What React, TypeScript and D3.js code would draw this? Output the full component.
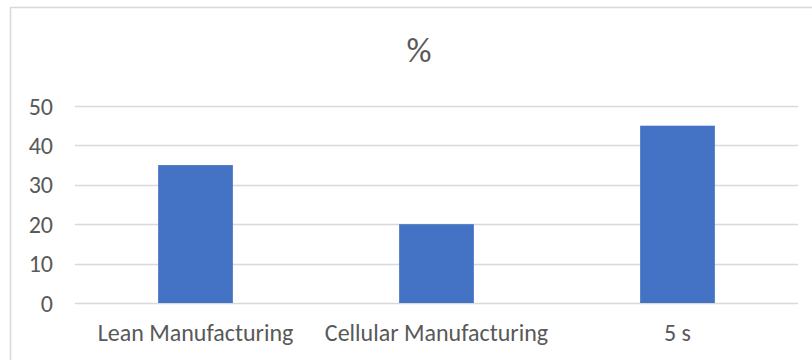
import React from "react";
import * as d3 from "d3";

const categories: string[] = ["Lean Manufacturing", "Cellular Manufacturing", "5 s"];
const values: number[] = [35, 20, 45];
const yTicks: number[] = [0, 10, 20, 30, 40, 50];
const title = "%";

const W = 812;
const H = 360;
const FONT = "Carlito, Calibri, Lato, 'Open Sans', sans-serif";
const TEXT = "#595959";
const GRID = "#D9D9D9";
const BAR = "#4472C4";

export default function App() {
  const x = d3.scaleBand<string>().domain(categories).range([75, 798]).padding(0);
  const y = d3.scaleLinear().domain([0, 50]).range([303, 106]);
  const bw = x.bandwidth() * 0.31;

  return (
    <svg
      width={W}
      height={H}
      style={{ position: "absolute", left: 0, top: 0, display: "block", background: "#fff" }}
      fontFamily={FONT}
    >
      <rect x={0} y={0} width={W} height={H} fill="#fff" />
      {/* chart border (cropped at right and bottom) */}
      <path d={`M10.5,${H + 5} L10.5,7.5 L${W + 5},7.5`} fill="none" stroke={GRID} strokeWidth={1.5} />
      <text x={419} y={62} textAnchor="middle" fontSize={35} fill={TEXT}>
        {title}
      </text>
      {yTicks.map((t) => (
        <g key={t}>
          <line x1={75} x2={798} y1={Math.round(y(t)) + 0.5} y2={Math.round(y(t)) + 0.5} stroke={GRID} strokeWidth={1.3} />
          <text x={53} y={y(t)} dy="0.36em" textAnchor="end" fontSize={24} fill={TEXT}>
            {t}
          </text>
        </g>
      ))}
      {categories.map((c, i) => {
        const cx = (x(c) as number) + x.bandwidth() / 2;
        return (
          <g key={c}>
            <rect x={cx - bw / 2} y={y(values[i])} width={bw} height={y(0) - y(values[i])} fill={BAR} />
            <text x={cx} y={341} textAnchor="middle" fontSize={24} fill={TEXT}>
              {c}
            </text>
          </g>
        );
      })}
    </svg>
  );
}
